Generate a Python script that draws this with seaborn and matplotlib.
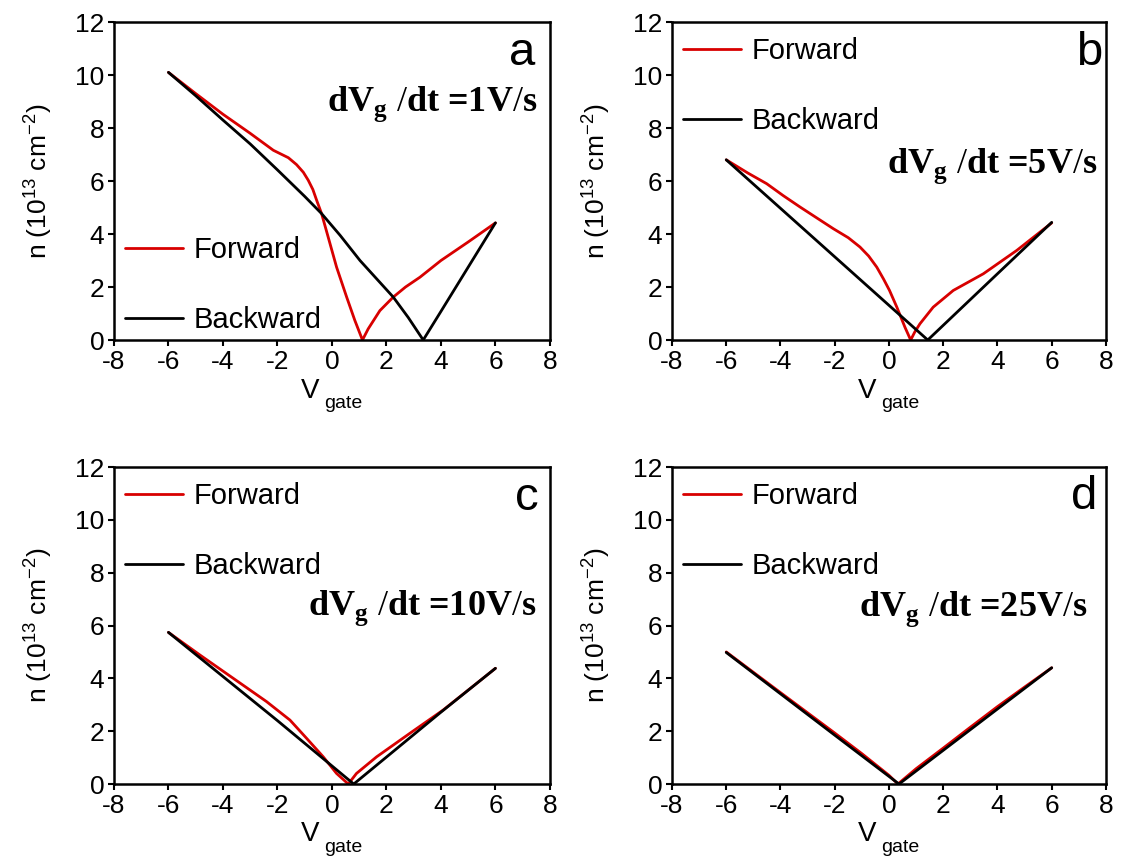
import pandas as pd
import matplotlib
matplotlib.use("Agg")
import matplotlib.pyplot as plt
import seaborn as sns

# -----------------------------------------
# Data (V_gate, n in 1e13 cm^-2)
# -----------------------------------------
a_fwd_x = [-6, -5, -4, -3, -2.15, -1.6, -1.3, -1.05, -0.87, -0.7, -0.56, -0.38, -0.14, 0.17, 0.54, 0.84, 1.12,
           1.33, 1.76, 2.25, 2.7, 3.23, 4, 5, 6]
a_fwd_y = [10.1, 9.3, 8.52, 7.8, 7.16, 6.88, 6.62, 6.33, 6.03, 5.68, 5.27, 4.77, 3.89, 2.75, 1.62, 0.74, 0.0,
           0.42, 1.11, 1.62, 2.0, 2.37, 3.0, 3.7, 4.42]
a_bwd_x = [-6, -5, -4, -3, -2, -1, -0.38, 0.3, 1.03, 2.25, 2.8, 3.35, 4, 5, 6]
a_bwd_y = [10.1, 9.22, 8.3, 7.4, 6.42, 5.42, 4.77, 3.95, 3.0, 1.62, 0.85, 0.0, 1.08, 2.75, 4.42]

b_fwd_x = [-6, -5.2, -4.51, -3.9, -3.28, -2.65, -2.05, -1.5, -1.07, -0.75, -0.45, -0.2, 0.02, 0.29, 0.59, 0.8,
           0.95, 1.14, 1.63, 2.37, 3.48, 4.71, 6]
b_fwd_y = [6.8, 6.3, 5.9, 5.45, 5.02, 4.6, 4.2, 3.86, 3.51, 3.17, 2.75, 2.3, 1.87, 1.24, 0.48, 0.0,
           0.3, 0.61, 1.24, 1.87, 2.5, 3.38, 4.42]
b_bwd_x = [-6, -2, 1.43, 4, 6]
b_bwd_y = [6.8, 3.14, 0.0, 2.5, 4.44]

c_fwd_x = [-6, -4.84, -3.62, -2.4, -1.54, -0.93, -0.32, 0.17, 0.6, 0.9, 1.64, 2.86, 4.08, 5.31, 6]
c_fwd_y = [5.74, 4.88, 4.0, 3.12, 2.42, 1.73, 1.03, 0.4, 0.0, 0.4, 1.03, 1.92, 2.8, 3.81, 4.38]
c_bwd_x = [-6, -2, 0.8, 4, 6]
c_bwd_y = [5.74, 2.4, 0.0, 2.72, 4.38]

d_fwd_x = [-6, -4, -2, -1, 0, 0.33, 1, 2, 3, 4, 5, 6]
d_fwd_y = [5.0, 3.46, 1.93, 1.15, 0.33, 0.0, 0.58, 1.36, 2.15, 2.93, 3.67, 4.4]
d_bwd_x = [-6, -2, 0.37, 4, 6]
d_bwd_y = [4.98, 1.85, 0.0, 2.84, 4.4]

panel_letters = ["a", "b", "c", "d"]
sweep_rates = ["1", "5", "10", "25"]

# -----------------------------------------
# Style
# -----------------------------------------
sns.set_style("ticks")
plt.rcParams["font.family"] = ["Liberation Sans", "DejaVu Sans"]
plt.rcParams["axes.unicode_minus"] = False
plt.rcParams["mathtext.fontset"] = "custom"
plt.rcParams["mathtext.rm"] = "Liberation Sans"
plt.rcParams["mathtext.it"] = "Liberation Sans"
plt.rcParams["mathtext.bf"] = "Liberation Serif:bold"
plt.rcParams["mathtext.sf"] = "Liberation Serif"
for key in ["text.color", "axes.labelcolor", "xtick.color", "ytick.color", "axes.edgecolor"]:
    plt.rcParams[key] = "black"

palette = {"Forward": "#d80000", "Backward": "black"}

def make_frame(fx, fy, bx, by):
    fwd = pd.DataFrame({"V": fx, "n": fy, "sweep": "Forward"})
    bwd = pd.DataFrame({"V": bx, "n": by, "sweep": "Backward"})
    return pd.concat([fwd, bwd], ignore_index=True)

frames = [
    make_frame(a_fwd_x, a_fwd_y, a_bwd_x, a_bwd_y),
    make_frame(b_fwd_x, b_fwd_y, b_bwd_x, b_bwd_y),
    make_frame(c_fwd_x, c_fwd_y, c_bwd_x, c_bwd_y),
    make_frame(d_fwd_x, d_fwd_y, d_bwd_x, d_bwd_y),
]

fig = plt.figure(figsize=(11.26, 8.61), dpi=100)
boxes = [
    [0.1012, 0.6051, 0.3872, 0.3693],
    [0.5968, 0.6051, 0.3854, 0.3693],
    [0.1012, 0.0894, 0.3872, 0.3682],
    [0.5968, 0.0894, 0.3854, 0.3682],
]
text_pos = [(0.972, 0.74), (0.98, 0.547), (0.97, 0.555), (0.958, 0.552)]
letter_pos = [(0.966, 0.865), (0.991, 0.865), (0.975, 0.864), (0.979, 0.867)]

for i, df in enumerate(frames):
    ax = fig.add_axes(boxes[i])
    sns.lineplot(data=df, x="V", y="n", hue="sweep", palette=palette,
                 sort=False, estimator=None, lw=2.0, ax=ax)
    ax.set_xlim(-8, 8)
    ax.set_ylim(0, 12)
    ax.set_xticks(range(-8, 9, 2))
    ax.set_yticks(range(0, 13, 2))
    ax.tick_params(axis="both", direction="out", length=4, width=1.5,
                   labelsize=19, pad=3)
    for sp in ax.spines.values():
        sp.set_linewidth(1.8)
        sp.set_visible(True)

    # V with a small, low "gate" subscript
    ax.set_xlabel("V", fontsize=20)
    ax.xaxis.set_label_coords(0.45, -0.118)
    ax.text(0.525, -0.20, "gate", transform=ax.transAxes, ha="center", va="center", fontsize=14)
    ax.set_ylabel(r"n (10$^{13}$ cm$^{-2}$)", fontsize=19, labelpad=14)

    if i == 0:
        ax.legend(loc="lower left", bbox_to_anchor=(-0.035, -0.065), frameon=False,
                  fontsize=21, handlelength=2.0, handletextpad=0.35, labelspacing=1.45)
    else:
        ax.legend(loc="upper left", bbox_to_anchor=(-0.035, 1.035), frameon=False,
                  fontsize=21, handlelength=2.0, handletextpad=0.35, labelspacing=1.45)

    ax.text(letter_pos[i][0], letter_pos[i][1], panel_letters[i], transform=ax.transAxes,
            ha="right", va="baseline", fontsize=34)
    ax.text(text_pos[i][0], text_pos[i][1],
            r"dV$_{\mathbf{g}}$ $\mathsf{/}$dt =" + sweep_rates[i] + r"V$\mathsf{/}$s",
            transform=ax.transAxes, ha="right", va="center", fontsize=26,
            family="Liberation Serif", weight="bold")

plt.savefig("out.png", dpi=100)
plt.close()
print("saved out.png")
